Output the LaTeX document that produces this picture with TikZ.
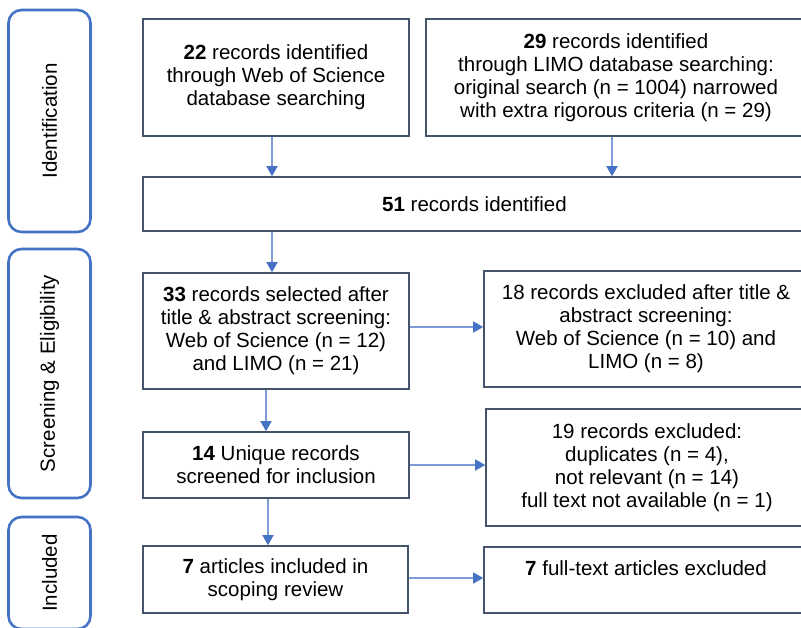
\documentclass[tikz,border=0pt]{standalone}
\usepackage{fontspec}
\setmainfont{Liberation Sans}
\usetikzlibrary{arrows.meta}

\definecolor{boxline}{RGB}{68,84,106}
\definecolor{phaseblue}{RGB}{68,114,196}
\definecolor{arrowline}{RGB}{125,156,216}

\tikzset{
  box/.style={draw=boxline,line width=1.6pt,align=center,inner sep=0pt,
    font=\fontsize{20.5}{23}\selectfont},
  phase/.style={draw=phaseblue,line width=2.6pt,rounded corners=13pt,rotate=90,
    inner sep=0pt,font=\fontsize{20.5}{23}\selectfont},
  arr/.style={draw=arrowline,line width=1.4pt,
    -{Triangle[width=11pt,length=10pt,color=phaseblue]}}
}

\begin{document}
\begin{tikzpicture}[x=1pt,y=-1pt]
\useasboundingbox (0,0) rectangle (801,627);
\clip (0,0) rectangle (801,627);

% phases
\node[phase,minimum width=222,minimum height=82](identification) at (49.5,121) {Identification};
\node[phase,minimum width=249,minimum height=82](screening) at (49.5,373.5) {Screening \& Eligibility};
\node[phase,minimum width=112,minimum height=82](included) at (49.5,573) {Included};

% identification
\node[box,minimum width=266,minimum height=117](wos) at (276,77.5) {\textbf{22} records identified\\through Web of Science\\database searching};
\node[box,minimum width=380,minimum height=117](limo) at (616,77.5) {\textbf{29} records identified\\through LIMO database searching:\\original search (n = 1004) narrowed\\with extra rigorous criteria (n = 29)};

\node[box,minimum width=663,minimum height=54](identified) at (474.5,204) {\textbf{51} records identified};

% screening
\node[box,minimum width=266,minimum height=116](selected) at (276,331) {\textbf{33} records selected after\\title \& abstract screening:\\Web of Science (n = 12)\\and LIMO (n = 21)};
\node[box,minimum width=324,minimum height=116](excl title) at (646,329) {18 records excluded after title \&\\abstract screening:\\Web of Science (n = 10) and\\LIMO (n = 8)};

\node[box,minimum width=266,minimum height=66](unique) at (276,465) {\textbf{14} Unique records\\screened for inclusion};
\node[box,minimum width=322,minimum height=117](excl records) at (647,467.5) {19 records excluded:\\duplicates (n = 4),\\not relevant (n = 14)\\full text not available (n = 1)};

% included
\node[box,minimum width=265,minimum height=67](articles) at (275.5,579.5) {\textbf{7} articles included in\\scoping review};
\node[box,minimum width=324,minimum height=66](excl articles) at (646,580) {\textbf{7} full-text articles excluded\\\mbox{}};

\draw[arr] ([xshift=-4pt]wos.south) to ([xshift=-4pt]wos.south |- identified.north);
\draw[arr] ([xshift=-4pt]limo.south) to ([xshift=-4pt]limo.south |- identified.north);

\draw[arr] ([xshift=-4pt]wos.south |- identified.south) to ([xshift=-4pt]wos.south |- selected.north);
\draw[arr] ([xshift=-10pt]selected.south) to ([xshift=-10pt]selected.south |- unique.north);
\draw[arr] ([xshift=-8pt]unique.south) to ([xshift=-8pt]unique.south |- articles.north);

\draw[arr] ([yshift=4pt]selected.east) to ([yshift=4pt]selected.east -| excl title.west);
\draw[arr] (unique.east) to (unique.east -| excl records.west);
\draw[arr] ([yshift=1.5pt]articles.east) to ([yshift=1.5pt]articles.east -| excl articles.west);

\end{tikzpicture}
\end{document}
